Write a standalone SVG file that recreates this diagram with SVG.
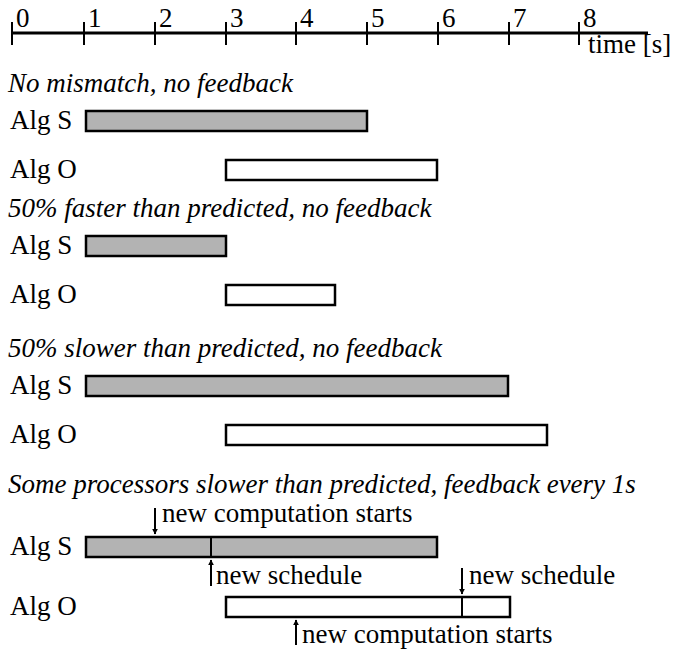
<svg xmlns="http://www.w3.org/2000/svg" width="673" height="650" viewBox="0 0 673 650">
<defs>
<style>
text{font-family:"Liberation Serif",Tinos,"Times New Roman",Times,"Noto Serif","DejaVu Serif",serif;font-size:27px;fill:#000}
.t{font-style:italic}
.s{fill:#b3b3b3;stroke:#000;stroke-width:2.5}
.o{fill:#fff;stroke:#000;stroke-width:2.5}
.ax{stroke:#000;stroke-width:3}
.tk{stroke:#000;stroke-width:2}
.ar{stroke:#000;stroke-width:2;fill:none}
</style>
<marker id="ah" viewBox="0 0 10 10" refX="9" refY="5" markerWidth="6" markerHeight="6" markerUnits="userSpaceOnUse" orient="auto">
<path d="M0,0 L10,5 L0,10 z" fill="#000"/>
</marker>
</defs>
<g id="axis">
<line class="ax" x1="12" y1="33" x2="648" y2="33"/>
<line class="tk" x1="12" y1="22" x2="12" y2="45"/>
<line class="tk" x1="84" y1="22" x2="84" y2="45"/>
<line class="tk" x1="155" y1="22" x2="155" y2="45"/>
<line class="tk" x1="226" y1="22" x2="226" y2="45"/>
<line class="tk" x1="296" y1="22" x2="296" y2="45"/>
<line class="tk" x1="367" y1="22" x2="367" y2="45"/>
<line class="tk" x1="438" y1="22" x2="438" y2="45"/>
<line class="tk" x1="509" y1="22" x2="509" y2="45"/>
<line class="tk" x1="579" y1="22" x2="579" y2="45"/>
<text x="16" y="27">0</text>
<text x="88" y="27">1</text>
<text x="159" y="27">2</text>
<text x="230" y="27">3</text>
<text x="300" y="27">4</text>
<text x="371" y="27">5</text>
<text x="442" y="27">6</text>
<text x="513" y="27">7</text>
<text x="583" y="27">8</text>
<text x="588" y="53">time [s]</text>
</g>
<g id="sec1">
<text class="t" x="8" y="92">No mismatch, no feedback</text>
<text x="10" y="129">Alg S</text>
<rect class="s" x="86" y="111" width="281" height="20"/>
<text x="10" y="178">Alg O</text>
<rect class="o" x="226" y="160" width="211" height="20"/>
</g>
<g id="sec2">
<text class="t" x="8" y="217">50% faster than predicted, no feedback</text>
<text x="10" y="254">Alg S</text>
<rect class="s" x="86" y="236" width="140" height="20"/>
<text x="10" y="303">Alg O</text>
<rect class="o" x="226" y="285" width="109" height="20"/>
</g>
<g id="sec3">
<text class="t" x="8" y="357">50% slower than predicted, no feedback</text>
<text x="10" y="394">Alg S</text>
<rect class="s" x="86" y="376" width="422" height="20"/>
<text x="10" y="443">Alg O</text>
<rect class="o" x="226" y="425" width="321" height="20"/>
</g>
<g id="sec4">
<text class="t" x="8" y="493">Some processors slower than predicted, feedback every 1s</text>
<text x="10" y="555">Alg S</text>
<rect class="s" x="86" y="537" width="351" height="20"/>
<line class="tk" x1="211" y1="537" x2="211" y2="557"/>
<text x="10" y="615">Alg O</text>
<rect class="o" x="226" y="597" width="284" height="20"/>
<line class="tk" x1="462" y1="597" x2="462" y2="617"/>
<text x="162" y="522">new computation starts</text>
<text x="216" y="584">new schedule</text>
<text x="469" y="584">new schedule</text>
<text x="302" y="643">new computation starts</text>
</g>
<g id="connectors">
<line class="ar" x1="155" y1="508" x2="155" y2="534" marker-end="url(#ah)"/>
<line class="ar" x1="211" y1="586" x2="211" y2="560" marker-end="url(#ah)"/>
<line class="ar" x1="462" y1="568" x2="462" y2="594" marker-end="url(#ah)"/>
<line class="ar" x1="296" y1="645" x2="296" y2="620" marker-end="url(#ah)"/>
</g>
</svg>
